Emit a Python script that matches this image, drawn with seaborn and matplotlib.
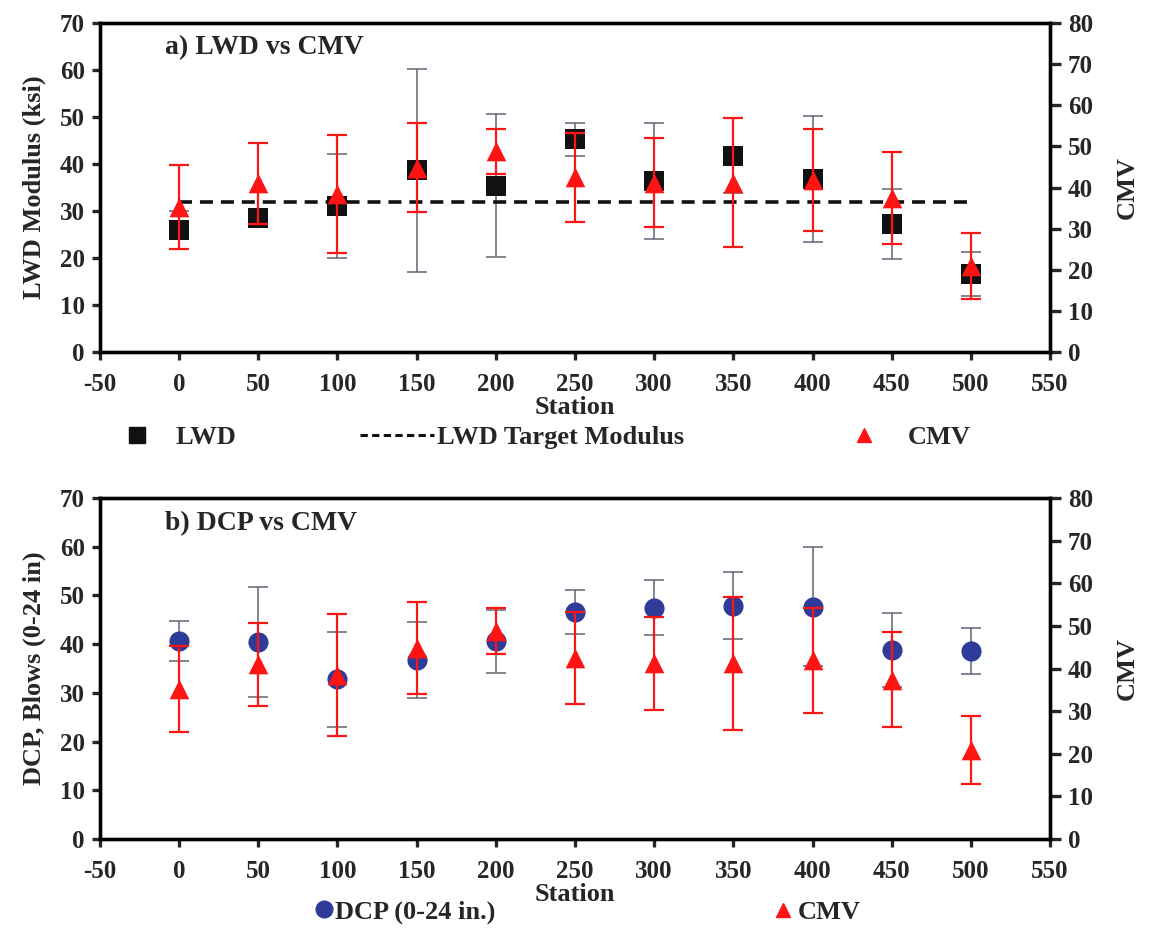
import pandas as pd
import matplotlib
matplotlib.use("Agg")
import matplotlib.pyplot as plt
from matplotlib.lines import Line2D
import seaborn as sns

# values
stations = [0, 50, 100, 150, 200, 250, 300, 350, 400, 450, 500]
lwd = [26.0, 28.5, 31.0, 38.7, 35.4, 45.3, 36.4, 41.8, 36.8, 27.2, 16.6]
lwd_sd = [4.0, 1.0, 11.1, 21.6, 15.2, 3.5, 12.3, 8.0, 13.4, 7.4, 4.6]
cmv = [35.2, 41.0, 38.5, 44.8, 48.8, 42.5, 41.2, 41.2, 41.9, 37.4, 20.9]
cmv_sd = [10.2, 9.8, 14.3, 10.8, 5.4, 10.8, 10.9, 15.6, 12.4, 11.2, 8.0]
dcp = [40.7, 40.4, 32.8, 36.7, 40.6, 46.6, 47.5, 47.9, 47.7, 38.8, 38.6]
dcp_sd = [4.1, 11.3, 9.7, 7.8, 6.5, 4.6, 5.7, 6.9, 12.2, 7.5, 4.8]
lwd_target = 32

x_ticks = list(range(-50, 551, 50))
left_ticks = list(range(0, 71, 10))
right_ticks = list(range(0, 81, 10))

BLACK = "#111111"
RED = "#ff1414"
BLUE = "#2e3b98"
BAR_GREY = "#5e6575"

sns.set_style("ticks")
plt.rcParams["font.family"] = ["Liberation Serif", "DejaVu Serif"]
plt.rcParams["font.weight"] = "bold"
plt.rcParams["axes.labelweight"] = "bold"
plt.rcParams["axes.unicode_minus"] = False

df = pd.DataFrame({"Station": stations, "LWD": lwd, "LWD_sd": lwd_sd,
                   "CMV": cmv, "CMV_sd": cmv_sd, "DCP": dcp, "DCP_sd": dcp_sd})

TICK_FS = 18
LABEL_FS = 19


def style_axes(ax, ax2, ylabel):
    ax.set_xlim(-50, 550)
    ax.set_ylim(0, 70)
    ax2.set_ylim(0, 80)
    ax.set_xticks(x_ticks)
    ax.set_yticks(left_ticks)
    ax2.set_yticks(right_ticks)
    ax.set_xlabel("Station", fontsize=LABEL_FS, labelpad=0)
    ax.set_ylabel(ylabel, fontsize=LABEL_FS, labelpad=10)
    ax2.set_ylabel("CMV", fontsize=LABEL_FS, labelpad=16)
    for a in (ax, ax2):
        for sp in a.spines.values():
            sp.set_visible(True)
            sp.set_linewidth(2.4)
            sp.set_color("black")
        a.tick_params(direction="out", length=6, width=2.4, labelsize=TICK_FS,
                      pad=5)
        for lab in a.get_xticklabels() + a.get_yticklabels():
            lab.set_fontweight("bold")
    ax.tick_params(axis="x", pad=9)
    ax.tick_params(axis="y", right=False)
    ax2.tick_params(axis="y", left=False, length=8)


def draw_cmv(ax2):
    ax2.errorbar(df["Station"], df["CMV"], yerr=df["CMV_sd"], fmt="none",
                 ecolor=RED, elinewidth=1.6, capsize=7, capthick=1.6, zorder=2)
    sns.scatterplot(data=df, x="Station", y="CMV", marker="^", s=200,
                    color=RED, edgecolor=RED, linewidth=0, ax=ax2, zorder=3)
    ax2.set_xlabel("")


fig = plt.figure(figsize=(11.53, 9.33), dpi=100)

# a) LWD vs CMV
ax_a = fig.add_axes([0.0867, 0.6227, 0.824, 0.3526])
ax_a.errorbar(df["Station"], df["LWD"], yerr=df["LWD_sd"], fmt="none",
              ecolor=BAR_GREY, elinewidth=1.1, capsize=7, capthick=1.1, zorder=2)
sns.scatterplot(data=df, x="Station", y="LWD", marker="s", s=190, color=BLACK,
                edgecolor=BLACK, linewidth=0, ax=ax_a, zorder=3)
ax_a.plot(df["Station"], [lwd_target] * len(df), color=BLACK, lw=2.6,
          ls=(0, (3.6, 2.2)), zorder=4)
ax_a2 = ax_a.twinx()
draw_cmv(ax_a2)
style_axes(ax_a, ax_a2, "LWD Modulus (ksi)")
ax_a.text(0.068, 0.925, "a) LWD vs CMV", transform=ax_a.transAxes,
          fontsize=20, fontweight="bold", va="center", ha="left")

# b) DCP vs CMV
ax_b = fig.add_axes([0.0867, 0.1007, 0.824, 0.3655])
ax_b.errorbar(df["Station"], df["DCP"], yerr=df["DCP_sd"], fmt="none",
              ecolor=BAR_GREY, elinewidth=1.1, capsize=7, capthick=1.1, zorder=2)
sns.scatterplot(data=df, x="Station", y="DCP", marker="o", s=210, color=BLUE,
                edgecolor=BLUE, linewidth=0, ax=ax_b, zorder=3)
ax_b2 = ax_b.twinx()
draw_cmv(ax_b2)
style_axes(ax_b, ax_b2, "DCP, Blows (0-24 in)")
ax_b.text(0.068, 0.925, "b) DCP vs CMV", transform=ax_b.transAxes,
          fontsize=20, fontweight="bold", va="center", ha="left")

# legends, one entry each so they can be spread like the original
leg_font = {"size": LABEL_FS, "weight": "bold"}


def add_entry(handle, label, x_px, y_px, hlen, pad):
    fig.legend([handle], [label], loc="center left",
               bbox_to_anchor=(x_px / 1153, 1 - y_px / 933), frameon=False,
               borderpad=0, borderaxespad=0, handlelength=hlen,
               handletextpad=pad, prop=leg_font)


sq = Line2D([], [], marker="s", ls="none", color=BLACK, markersize=11)
dash = Line2D([], [], color=BLACK, lw=2.2, ls=(0, (2.4, 1.4)))
tri = Line2D([], [], marker="^", ls="none", color=RED, markersize=10)
dot = Line2D([], [], marker="o", ls="none", color=BLUE, markersize=12)

add_entry(sq, "LWD", 128, 437, 0.7, 1.1)
add_entry(dash, "LWD Target Modulus", 360, 437, 2.8, 0.1)
add_entry(tri, "CMV", 855, 437, 0.7, 1.3)
add_entry(dot, "DCP (0-24 in.)", 315, 912, 0.7, 0.05)
add_entry(tri, "CMV", 774, 912, 0.7, 0.2)

fig.savefig("out.png", dpi=100, facecolor="white")
